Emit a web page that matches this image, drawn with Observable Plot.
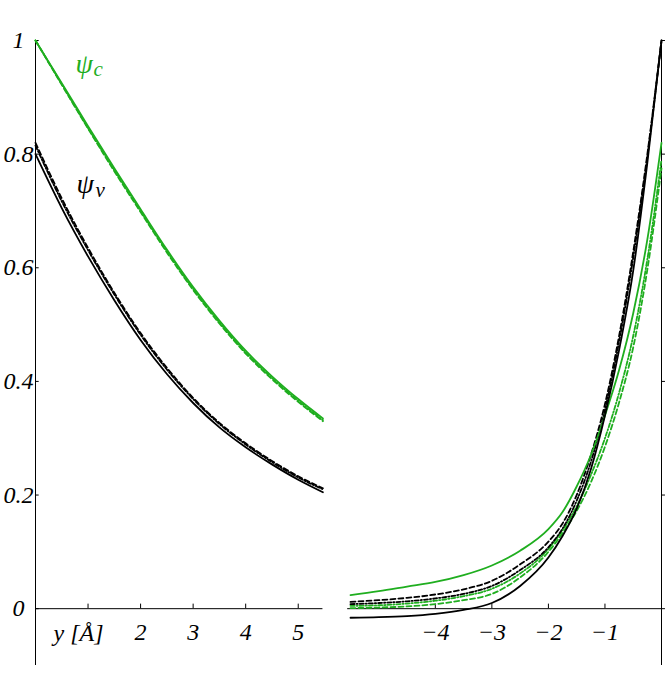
<!DOCTYPE html>
<html>
<head>
<meta charset="utf-8">
<script src="https://cdn.jsdelivr.net/npm/d3@7"></script>
<script src="https://cdn.jsdelivr.net/npm/@observablehq/plot@0.6"></script>
<style>
  html, body { margin: 0; padding: 0; background: white; }
  #wrap { position: relative; width: 668px; height: 691px; overflow: hidden; }
  #left, #right { position: absolute; top: 0; }
  #left { left: 0; }
  #right { left: 330px; }
</style>
</head>
<body>
<div id="wrap"><div id="left"></div><div id="right"></div></div>
<script>
// ---------- data ----------
// Left panel: y [Å] >= 0
const xLeft = [0, 0.5, 1, 1.5, 2, 2.5, 3, 3.5, 4, 4.5, 5, 5.47];
const psiCSolidL   = [1.00, 0.925, 0.849, 0.775, 0.703, 0.632, 0.566, 0.507, 0.454, 0.409, 0.369, 0.335];
const psiCDashL    = [1.00, 0.922, 0.845, 0.770, 0.698, 0.627, 0.561, 0.502, 0.449, 0.404, 0.364, 0.330];
const psiCDashDotL = [1.00, 0.923, 0.846, 0.772, 0.700, 0.629, 0.563, 0.504, 0.451, 0.406, 0.366, 0.332];
const psiVSolidL   = [0.800, 0.705, 0.620, 0.543, 0.473, 0.413, 0.362, 0.319, 0.284, 0.254, 0.227, 0.205];
const psiVDashL    = [0.820, 0.722, 0.635, 0.556, 0.485, 0.424, 0.371, 0.327, 0.291, 0.260, 0.233, 0.212];
const psiVDashDotL = [0.815, 0.717, 0.631, 0.553, 0.482, 0.421, 0.369, 0.325, 0.289, 0.258, 0.231, 0.210];

// Right panel: y [Å] <= 0
const xRight = [-5.5, -5, -4.5, -4, -3.5, -3, -2.5, -2, -1.75, -1.5, -1.25, -1, -0.75, -0.5, -0.25, 0];
const blackSolidR   = [-0.016, -0.015, -0.013, -0.009, -0.002, 0.010, 0.040, 0.090, 0.128, 0.176, 0.245, 0.340, 0.455, 0.595, 0.785, 1.000];
const blackDashR    = [0.012, 0.015, 0.019, 0.025, 0.034, 0.049, 0.078, 0.118, 0.150, 0.200, 0.270, 0.360, 0.480, 0.628, 0.800, 1.000];
const blackDashDotR = [0.008, 0.010, 0.013, 0.018, 0.026, 0.040, 0.068, 0.108, 0.141, 0.190, 0.258, 0.350, 0.470, 0.618, 0.795, 1.000];
const greenSolidR   = [0.024, 0.031, 0.039, 0.047, 0.059, 0.076, 0.102, 0.140, 0.170, 0.215, 0.270, 0.340, 0.420, 0.520, 0.650, 0.820];
const greenDashDotR = [0.005, 0.006, 0.009, 0.014, 0.022, 0.035, 0.062, 0.105, 0.138, 0.180, 0.235, 0.300, 0.380, 0.480, 0.615, 0.790];
const greenDashR    = [0.001, 0.002, 0.004, 0.008, 0.015, 0.026, 0.055, 0.100, 0.133, 0.172, 0.222, 0.285, 0.363, 0.460, 0.597, 0.775];

// ticks
const yTicks = [0, 0.2, 0.4, 0.6, 0.8, 1];
const yTickLabels = ["0", "0.2", "0.4", "0.6", "0.8", "1"];
const xTicksL = [1, 2, 3, 4, 5];
const xTickLabelsL = [2, 3, 4, 5];
const xTicksR = [-4, -3, -2, -1];
const xAxisLabel = "y [Å]";

// ---------- styles ----------
const GREEN = "#1fae1f";
const FONT = "Liberation Serif, Times New Roman, serif";
const SW = 1.8;
const DASH = "5,3";
const DASHDOT = "4,2,1.2,2";

function series(xs, ys) { return xs.map((x, i) => ({x, y: ys[i]})); }
function line(xs, ys, stroke, dash) {
  return Plot.line(series(xs, ys), {x: "x", y: "y", stroke, strokeWidth: SW, strokeDasharray: dash, curve: "monotone-x"});
}
const txt = {fontFamily: FONT, fontStyle: "italic", fontSize: 24, fill: "black"};
function label(s, dx, dy, size, fill) {
  return Plot.text([s], {frameAnchor: "top-left", text: d => d, dx, dy, textAnchor: "start", lineAnchor: "middle",
    fontFamily: FONT, fontStyle: "italic", fontSize: size, fill});
}

// ---------- left panel ----------
const left = Plot.plot({
  width: 340, height: 691,
  marginLeft: 35, marginRight: 16, marginTop: 40, marginBottom: 26,
  x: {domain: [0, 5.5], axis: null},
  y: {domain: [-0.1, 1], axis: null},
  marks: [
    Plot.ruleX([0], {y1: -0.1, y2: 1, stroke: "black", strokeWidth: 1}),
    Plot.ruleY([0], {x1: 0, x2: 5.47, stroke: "black", strokeWidth: 1}),
    Plot.ruleX(xTicksL, {x: d => d, y1: 0, y2: 0.008, stroke: "black", strokeWidth: 1}),
    Plot.ruleY(yTicks, {y: d => d, x1: 0, x2: 0.07, stroke: "black", strokeWidth: 1}),
    Plot.text(yTicks, {x: 0, y: d => d, text: (d, i) => yTickLabels[i], dx: -17, textAnchor: "middle", ...txt}),
    Plot.text(xTickLabelsL, {x: d => d, y: 0, text: d => String(d), dy: 24, ...txt}),
    Plot.text([xAxisLabel], {x: 0.82, y: 0, text: d => d, dy: 25, ...txt}),
    line(xLeft, psiCDashL, GREEN, DASH),
    line(xLeft, psiCDashDotL, GREEN, DASHDOT),
    line(xLeft, psiCSolidL, GREEN, null),
    line(xLeft, psiVDashL, "black", DASH),
    line(xLeft, psiVDashDotL, "black", DASHDOT),
    line(xLeft, psiVSolidL, "black", null),
    label("ψ", 40, 24, 28, GREEN),
    label("c", 58, 29, 21, GREEN),
    label("ψ", 41, 144, 28, "black"),
    label("v", 60, 150, 21, "black")
  ]
});
document.getElementById("left").appendChild(left);

// ---------- right panel ----------
const right = Plot.plot({
  width: 338, height: 691,
  marginLeft: 20, marginRight: 7, marginTop: 40, marginBottom: 26,
  x: {domain: [-5.5, 0], axis: null},
  y: {domain: [-0.1, 1], axis: null},
  style: {background: "transparent"},
  marks: [
    Plot.ruleX([0], {y1: -0.1, y2: 1, stroke: "black", strokeWidth: 1}),
    Plot.ruleY([0], {x1: -5.55, x2: 0, stroke: "black", strokeWidth: 1}),
    Plot.ruleX(xTicksR, {x: d => d, y1: 0, y2: 0.008, stroke: "black", strokeWidth: 1}),
    Plot.ruleY(yTicks, {y: d => d, x1: 0, x2: 0.07, stroke: "black", strokeWidth: 1}),
    Plot.text(xTicksR, {x: d => d, y: 0, text: d => "\u2212" + Math.abs(d), dy: 24, ...txt}),
    line(xRight, greenDashR, GREEN, DASH),
    line(xRight, greenDashDotR, GREEN, DASHDOT),
    line(xRight, blackDashR, "black", DASH),
    line(xRight, blackDashDotR, "black", DASHDOT),
    line(xRight, greenSolidR, GREEN, null),
    line(xRight, blackSolidR, "black", null)
  ]
});
document.getElementById("right").appendChild(right);
</script>
</body>
</html>
